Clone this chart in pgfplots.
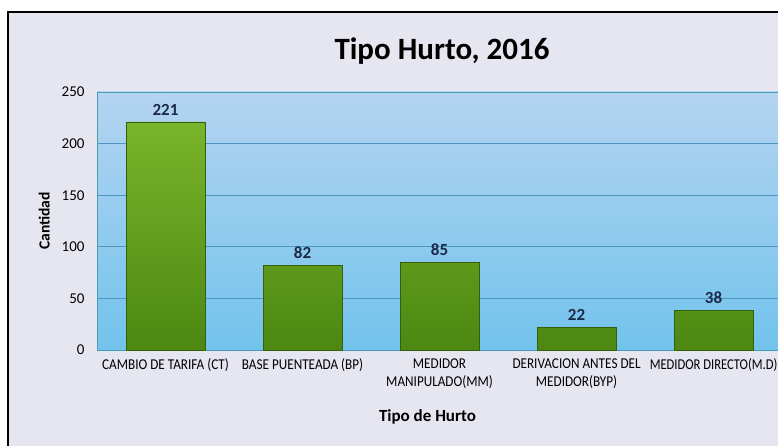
\documentclass[border=0pt]{standalone}
\usepackage{fontspec}
\setmainfont{Carlito}
\usepackage{graphicx}
\usepackage{pgfplots}
\pgfplotsset{compat=1.18}
\definecolor{bgout}{HTML}{E6E6F0}
\definecolor{plottop}{HTML}{B4D4F1}
\definecolor{plotbot}{HTML}{72C3EC}
\definecolor{gridc}{HTML}{4E95C0}
\definecolor{axc}{HTML}{4A9CB5}
\definecolor{bartop}{HTML}{7AB42A}
\definecolor{barbot}{HTML}{4C8812}
\definecolor{baredge}{HTML}{34600C}
\definecolor{valc}{HTML}{1C2A48}
\newcommand\sx[1]{\scalebox{0.88}[1]{#1}}
\newcommand\sxx[1]{\scalebox{0.84}[1]{#1}}
\begin{document}
\begin{tikzpicture}[x=1pt,y=1pt]
\useasboundingbox (0,0) rectangle (778,-446);
\clip (0,0) rectangle (778,-446);
\fill[white] (0,0) rectangle (778,-446);
\fill[bgout] (8,-12) rectangle (800,-450);
\draw[black, line width=1.8pt] (8,-450) -- (8,-12) -- (800,-12);
\node[font={\fontsize{31}{34}\selectfont\bfseries}] at (442,-51) {Tipo Hurto, 2016};
\begin{axis}[
  at={(97pt,-350pt)}, anchor=south west,
  scale only axis, width=681pt, height=258pt,
  xmin=-0.5, xmax=4.47, ymin=0, ymax=250,
  axis background/.style={top color=plottop, bottom color=plotbot},
  axis line style={draw=axc, line width=0.8pt},
  ytick={0,50,100,150,200,250},
  ymajorgrids, grid style={draw=gridc, line width=0.7pt},
  major tick length=0pt,
  xtick={0,1,2,3,4},
  xticklabels={{\sx{CAMBIO DE TARIFA (CT)}},{\sx{BASE PUENTEADA (BP)}},{\sx{MEDIDOR}\\\sx{MANIPULADO(MM)}},{\sx{DERIVACION ANTES DEL}\\\sx{MEDIDOR(BYP)}},{\sxx{MEDIDOR DIRECTO(M.D)}}},
  xticklabel style={align=center, font={\fontsize{15}{18.5}\selectfont}, yshift=-5pt},
  yticklabel style={font={\fontsize{15}{16}\selectfont}, xshift=-9pt},
  /pgf/number format/assume math mode=true,
  xlabel={Tipo de Hurto},
  xlabel style={font={\fontsize{17}{20}\selectfont\bfseries}, yshift=-14pt, xshift=-10pt},
  ylabel={Cantidad},
  ylabel style={font={\fontsize{15.5}{18}\selectfont\bfseries}, yshift=5pt},
  nodes near coords,
  nodes near coords style={font={\fontsize{17}{20}\selectfont\bfseries}, text=valc, yshift=3pt},
]
\addplot[ybar, bar width=79pt, bar shift=0pt, top color=bartop, bottom color=barbot, draw=baredge, line width=0.8pt]
  coordinates {(0,221) (1,82) (2,85) (3,22) (4,38)};
\end{axis}
\end{tikzpicture}
\end{document}
